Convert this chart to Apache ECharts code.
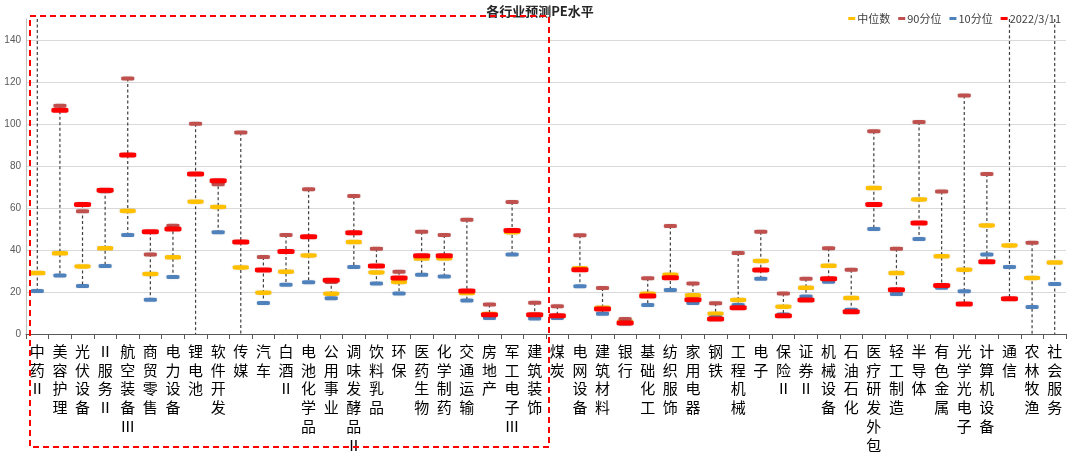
<!DOCTYPE html>
<html>
<head>
<meta charset="utf-8">
<script src="https://cdn.jsdelivr.net/npm/echarts@6/dist/echarts.min.js"></script>
<style>
  html, body { margin: 0; padding: 0; background: #fff; }
  #main { width: 1080px; height: 469px; }
</style>
</head>
<body>
<div id="main"></div>
<script>
// 行业
var categories = ['中药Ⅱ','美容护理','光伏设备','Ⅱ服务Ⅱ','航空装备Ⅲ','商贸零售','电力设备','锂电池','软件开发','传媒',
  '汽车','白酒Ⅱ','电池化学品','公用事业','调味发酵品Ⅱ','饮料乳品','环保','医药生物','化学制药','交通运输',
  '房地产','军工电子Ⅲ','建筑装饰','煤炭','电网设备','建筑材料','银行','基础化工','纺织服饰','家用电器',
  '钢铁','工程机械','电子','保险Ⅱ','证券Ⅱ','机械设备','石油石化','医疗研发外包','轻工制造','半导体',
  '有色金属','光学光电子','计算机设备','通信','农林牧渔','社会服务'];

var median = [29.0,38.4,32.2,40.8,58.6,28.6,36.5,63.0,60.5,31.7,
  19.7,29.7,37.4,19.2,43.8,29.3,24.8,35.9,36.0,19.5,
  9.5,48.5,9.0,8.5,31.3,12.5,5.9,19.2,28.2,18.4,
  9.7,16.2,34.8,13.0,22.0,32.5,17.1,69.5,29.0,64.1,
  37.0,30.6,51.7,42.2,26.7,34.0];

var p90 = [160,108.7,58.4,68.0,121.7,37.8,51.6,100.1,71.3,96.0,
  36.7,47.1,68.9,24.8,65.7,40.6,29.7,48.7,47.1,54.4,
  14.1,62.9,14.9,13.2,47.0,21.9,7.1,26.5,51.4,24.0,
  14.6,38.6,48.7,19.3,26.3,40.8,30.6,96.5,40.6,100.9,
  67.9,113.6,76.2,160,43.5,160];

var p10 = [20.5,27.8,22.9,32.4,47.1,16.3,27.1,-10,48.4,-10,
  14.8,23.5,24.6,17.0,31.9,24.0,19.3,28.2,27.4,15.9,
  7.6,37.8,7.4,7.6,22.7,9.7,5.0,13.8,20.9,14.8,
  7.8,13.8,26.3,9.3,17.8,24.9,11.6,50.0,19.0,45.2,
  22.0,20.3,37.8,31.9,12.9,23.8];

var current = [null,106.5,61.7,68.4,85.2,48.7,50.0,76.2,73.0,43.8,
  30.5,39.3,46.3,25.6,48.2,32.4,26.7,37.3,37.3,20.5,
  9.2,49.3,9.2,8.7,30.6,11.9,5.2,18.1,26.8,16.3,
  7.2,12.5,30.5,8.7,16.2,26.3,10.6,61.7,21.1,52.9,
  23.1,14.3,34.4,16.8,-5,-20];

var yTicks = [0,20,40,60,80,100,120,140];

// 高低线：四个值的最小到最大
var hiLo = categories.map(function (c, i) {
  var vals = [median[i], p90[i], p10[i], current[i]].filter(function (v) { return v != null; });
  return [i, Math.min.apply(null, vals), Math.max.apply(null, vals)];
});

var gridColors = yTicks.map(function () { return '#d9d9d9'; });
gridColors.push('rgba(0,0,0,0)');

var myChart = echarts.init(document.getElementById('main'));

function marker(name, data, color, size, z) {
  return {
    name: name,
    type: 'scatter',
    data: data,
    symbol: 'roundRect',
    symbolSize: size,
    z: z,
    clip: true,
    itemStyle: { color: color, opacity: 1, shadowBlur: 2, shadowColor: 'rgba(0,0,0,0.15)' },
    emphasis: { disabled: true }
  };
}

myChart.setOption({
  animation: false,
  title: {
    text: '各行业预测PE水平',
    left: 'center',
    top: 0,
    textStyle: { fontSize: 13, fontWeight: 'bold', color: '#262626', fontFamily: 'Noto Sans CJK SC' }
  },
  legend: {
    right: 14,
    top: 8,
    itemWidth: 7,
    itemHeight: 3,
    itemGap: 8,
    icon: 'rect',
    textStyle: { fontSize: 11, color: '#404040', fontFamily: 'Noto Sans CJK SC', padding: [0, 0, 0, -3] },
    data: ['中位数', '90分位', '10分位', '2022/3/11']
  },
  grid: { left: 26, right: 14, top: 19, bottom: 135 },
  xAxis: {
    type: 'category',
    data: categories,
    axisLine: { lineStyle: { color: '#595959', width: 1 } },
    axisTick: { show: true, length: 5, lineStyle: { color: '#595959' } },
    axisLabel: {
      interval: 0,
      margin: 8,
      fontSize: 15,
      lineHeight: 18.7,
      color: '#000',
      fontFamily: 'Noto Sans CJK SC',
      verticalAlign: 'top',
      formatter: function (v) { return v.split('').join('\n'); }
    }
  },
  yAxis: {
    type: 'value',
    min: 0,
    max: 150,
    interval: 20,
    axisLine: { show: true, lineStyle: { color: '#bfbfbf' } },
    axisTick: { show: false },
    axisLabel: { fontSize: 10, color: '#595959', margin: 5, showMaxLabel: false },
    splitLine: { show: true, lineStyle: { color: gridColors, width: 1 } }
  },
  graphic: [{
    type: 'rect',
    shape: { x: 30, y: 16, width: 519, height: 431 },
    style: { fill: 'none', stroke: '#ff0000', lineWidth: 2, lineDash: [6, 4] },
    z: 100
  }],
  series: [
    {
      name: 'hilo',
      type: 'custom',
      data: hiLo,
      z: 1,
      silent: true,
      encode: { x: 0, y: [1, 2] },
      renderItem: function (params, api) {
        var cs = params.coordSys;
        var a = api.coord([api.value(0), api.value(2)]);
        var b = api.coord([api.value(0), api.value(1)]);
        var y1 = Math.max(cs.y, Math.min(cs.y + cs.height, a[1]));
        var y2 = Math.max(cs.y, Math.min(cs.y + cs.height, b[1]));
        return {
          type: 'line',
          shape: { x1: a[0], y1: y1, x2: a[0], y2: y2 },
          style: { stroke: '#404040', lineWidth: 1.2, lineDash: [3, 2.5] }
        };
      }
    },
    marker('中位数', median, '#ffc000', [16, 4.5], 3),
    marker('90分位', p90, '#c0504d', [13, 4], 4),
    marker('10分位', p10, '#4f81bd', [13, 4], 5),
    marker('2022/3/11', current, '#ff0000', [17, 5], 6)
  ]
});
</script>
</body>
</html>
